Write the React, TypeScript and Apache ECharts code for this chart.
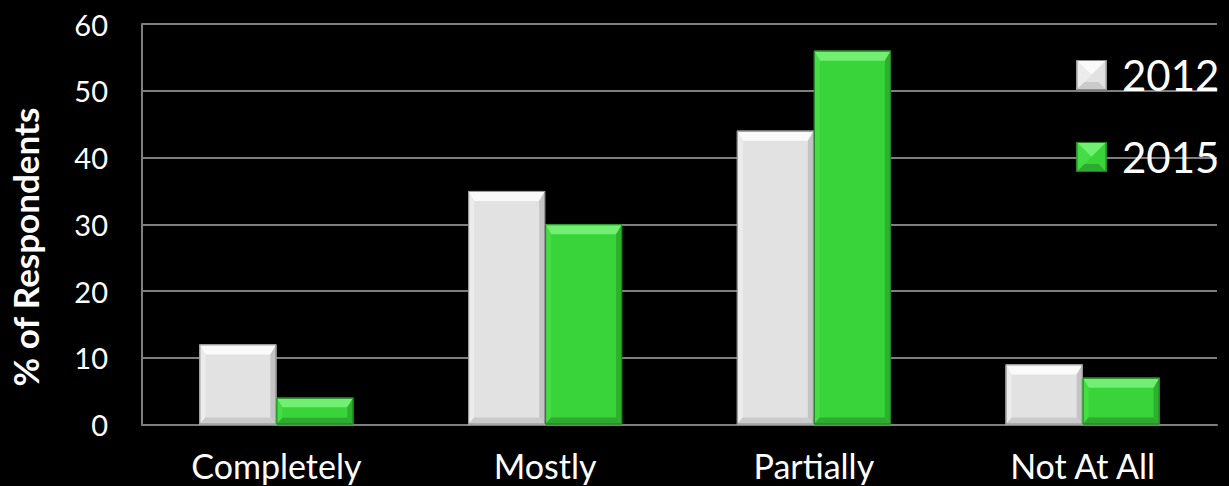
import React, { useEffect, useRef } from "react";
import * as echarts from "echarts";

// Survey answers by category, % of respondents
const categories = ["Completely", "Mostly", "Partially", "Not At All"];
const years = ["2012", "2015"];
const values2012 = [12, 35, 44, 9];
const values2015 = [4, 30, 56, 7];
const yTicks = { min: 0, max: 60, interval: 10 };

const FONT = "Lato, 'Liberation Sans', sans-serif";

type Palette = { face: string; top: string; left: string; right: string; bottom: string; edge: string };

const GRAY: Palette = {
  face: "#e2e2e2",
  top: "#fafafa",
  left: "#ececec",
  right: "#c4c4c4",
  bottom: "#cacaca",
  edge: "#8c8c8c",
};
const GREEN: Palette = {
  face: "#38d43a",
  top: "#72ee72",
  left: "#45dc45",
  right: "#2cb02e",
  bottom: "#2daa2f",
  edge: "#1d7f1f",
};

// Share of one category band taken by a single bar
const BAR_RATIO = 0.2865;

function bevelIcon(p: Palette): string {
  const s = 30;
  const b = 8;
  const svg =
    `<svg xmlns="http://www.w3.org/2000/svg" width="${s}" height="${s}" viewBox="0 0 ${s} ${s}">` +
    `<rect x="0" y="0" width="${s}" height="${s}" fill="${p.face}"/>` +
    `<polygon points="0,0 ${s},0 ${s / 2},${s / 2}" fill="${p.top}"/>` +
    `<polygon points="0,0 ${s / 2},${s / 2} 0,${s}" fill="${p.left}"/>` +
    `<polygon points="${s},0 ${s},${s} ${s / 2},${s / 2}" fill="${p.face}"/>` +
    `<polygon points="0,${s} ${b},${s - b} ${s - b},${s - b} ${s},${s}" fill="${p.bottom}"/>` +
    `<rect x="0.5" y="0.5" width="${s - 1}" height="${s - 1}" fill="none" stroke="${p.edge}" stroke-width="1"/>` +
    `</svg>`;
  return "image://data:image/svg+xml;charset=utf-8," + encodeURIComponent(svg);
}

// Bevelled bar drawn through the category / value scales
function bevelBar(side: 0 | 1, p: Palette) {
  return (_params: any, api: any) => {
    const cat = api.value(0);
    const v = api.value(1);
    const topPt = api.coord([cat, v]);
    const basePt = api.coord([cat, 0]);
    const band = api.size([1, 0])[0];
    const bw = band * BAR_RATIO;
    const x0 = side === 0 ? topPt[0] - bw : topPt[0];
    const x1 = x0 + bw;
    const yt = topPt[1];
    const yb = basePt[1];
    const h = yb - yt;
    const bt = Math.min(10, h * 0.35);
    const bb = Math.min(7, h * 0.25);
    const bs = Math.min(6, bw * 0.08);
    const poly = (points: number[][], fill: string) => ({
      type: "polygon",
      shape: { points },
      style: { fill },
    });
    return {
      type: "group",
      children: [
        { type: "rect", shape: { x: x0, y: yt, width: bw, height: h }, style: { fill: p.face } },
        poly([[x0, yt], [x1, yt], [x1 - bs, yt + bt], [x0 + bs, yt + bt]], p.top),
        poly([[x0, yt], [x0 + bs, yt + bt], [x0 + bs, yb - bb], [x0, yb]], p.left),
        poly([[x1, yt], [x1, yb], [x1 - bs, yb - bb], [x1 - bs, yt + bt]], p.right),
        poly([[x0, yb], [x0 + bs, yb - bb], [x1 - bs, yb - bb], [x1, yb]], p.bottom),
        {
          type: "rect",
          shape: { x: x0 + 0.5, y: yt + 0.5, width: bw - 1, height: h - 1 },
          style: { fill: "none", stroke: p.edge, lineWidth: 1 },
        },
      ],
    };
  };
}

export default function App() {
  const ref = useRef<HTMLDivElement>(null);

  useEffect(() => {
    if (!ref.current) return;
    const chart = echarts.init(ref.current, undefined, { renderer: "svg" });
    const gridColor = "#7f7f7f";

    chart.setOption({
      animation: false,
      backgroundColor: "#000000",
      grid: { left: 142, right: 12, top: 24, bottom: 61.5, containLabel: false },
      legend: {
        orient: "vertical",
        left: 1076,
        top: 49,
        padding: 0,
        itemWidth: 31,
        itemHeight: 30,
        itemGap: 30,
        selectedMode: false,
        data: [
          { name: years[0], icon: bevelIcon(GRAY) },
          { name: years[1], icon: bevelIcon(GREEN) },
        ],
        textStyle: {
          color: "#ffffff",
          fontSize: 42,
          lineHeight: 52,
          fontFamily: FONT,
          padding: [0, 0, 0, 10],
        },
      },
      xAxis: {
        type: "category",
        data: categories,
        axisLine: { show: true, lineStyle: { color: gridColor, width: 2 } },
        axisTick: { show: false },
        axisLabel: { color: "#ffffff", fontSize: 34, fontFamily: FONT, margin: 22, lineHeight: 38 },
        splitLine: { show: false },
      },
      yAxis: {
        type: "value",
        min: yTicks.min,
        max: yTicks.max,
        interval: yTicks.interval,
        axisLine: { show: true, lineStyle: { color: gridColor, width: 2 } },
        axisTick: { show: false },
        axisLabel: { color: "#ffffff", fontSize: 29, fontFamily: FONT, margin: 34 },
        splitLine: { show: true, lineStyle: { color: gridColor, width: 2 } },
      },
      graphic: [
        {
          type: "text",
          x: 25,
          y: 247,
          rotation: Math.PI / 2,
          style: {
            text: "% of Respondents",
            fill: "#ffffff",
            font: `bold 35px ${FONT}`,
            align: "center",
            verticalAlign: "middle",
          },
        },
      ],
      series: [
        {
          name: years[0],
          type: "custom",
          itemStyle: { color: GRAY.face },
          renderItem: bevelBar(0, GRAY),
          encode: { x: 0, y: 1 },
          data: values2012.map((v, i) => [i, v]),
        },
        {
          name: years[1],
          type: "custom",
          itemStyle: { color: GREEN.face },
          renderItem: bevelBar(1, GREEN),
          encode: { x: 0, y: 1 },
          data: values2015.map((v, i) => [i, v]),
        },
      ],
    });

    return () => chart.dispose();
  }, []);

  return (
    <div
      ref={ref}
      style={{ position: "absolute", left: 0, top: 0, width: 1229, height: 486, background: "#000" }}
    />
  );
}
